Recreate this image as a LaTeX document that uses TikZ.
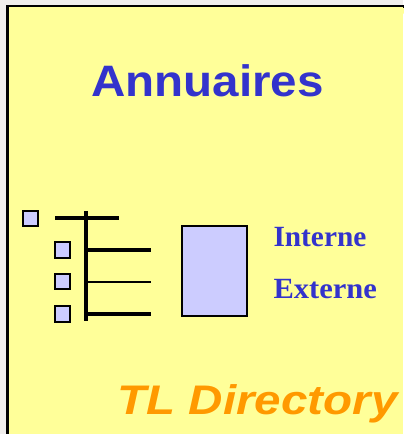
\documentclass[tikz,border=0pt]{standalone}
\usepackage{fontspec}
\setmainfont{Liberation Serif}
\setsansfont{Liberation Sans}
\definecolor{panelyellow}{RGB}{255,255,153}
\definecolor{titleblue}{RGB}{51,51,204}
\definecolor{lilac}{RGB}{204,204,255}
\definecolor{tlorange}{RGB}{255,153,0}
\definecolor{outergray}{RGB}{240,238,236}
\tikzset{every picture/.style={line width=0.75pt}}
\tikzset{
  smallsq/.style={draw=black,fill=lilac,line width=1.6pt,minimum size=11.5pt,inner sep=0pt},
  treeline/.style={line width=2.6pt},
}

\begin{document}
\begin{tikzpicture}[x=0.75pt,y=0.75pt,yscale=-1,xscale=1]
\useasboundingbox (0,0) rectangle (403,434);

%Shape: Background
\fill [outergray] (0,0) rectangle (403,434);
%Shape: Panel
\draw [fill=panelyellow,line width=1.6pt] (7.5,440) -- (7.5,6.5) -- (410,6.5);
\fill [panelyellow] (8.5,7.5) rectangle (403,434);

%Small squares
\node [smallsq] (sq0) at (30.5,218.5) {};
\node [smallsq] (sq1) at (62.5,250) {};
\node [smallsq] (sq2) at (62.5,281.5) {};
\node [smallsq] (sq3) at (62.5,314) {};

%Tree lines
\coordinate (ttop) at (86,211);
\coordinate (tbot) at (86,321);
\draw [treeline] (ttop) -- (tbot);
\draw [treeline] (55,218) -- (119,218);
\draw [treeline] (86,250) -- (151,250);
\draw [line width=1.8pt] (86,282) -- (151,282);
\draw [treeline] (86,314) -- (151,314);

%Shape: Rectangle
\node [draw=black,fill=lilac,line width=1.8pt,minimum width=48.5pt,minimum height=67.5pt,inner sep=0pt] (book) at (214.5,271) {};

% Text Node
\node [anchor=base,inner sep=0pt,text=titleblue,font=\sffamily\bfseries\fontsize{33}{36}\selectfont,xscale=1.08] (title) at (207.5,97) {Annuaires};
\node [anchor=base west,inner sep=0pt,text=titleblue,font=\bfseries\fontsize{22}{24}\selectfont] (interne) at (273,246) {Interne};
\node [anchor=base west,inner sep=0pt,text=titleblue,font=\bfseries\fontsize{22}{24}\selectfont,xscale=1.04] (externe) at (273,298) {Externe};
\node [anchor=base west,inner sep=0pt,text=tlorange,font=\sffamily\bfseries\itshape\fontsize{31}{34}\selectfont,xscale=1.15] (tldir) at (117,414) {TL Directory};

\end{tikzpicture}
\end{document}
